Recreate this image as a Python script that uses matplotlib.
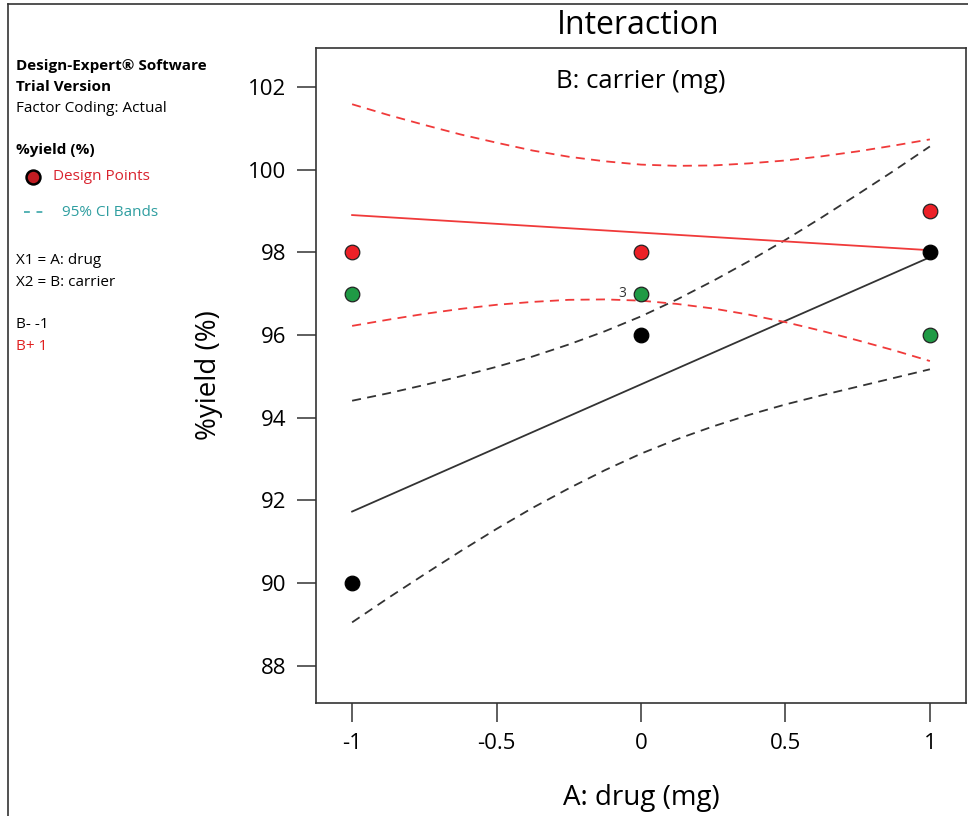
import numpy as np
import matplotlib.pyplot as plt
from matplotlib.lines import Line2D

plt.rcParams['font.family'] = ['Open Sans', 'DejaVu Sans']

# A: drug (coded), sampled along the CI curves
drug = [-1, -0.875, -0.75, -0.625, -0.5, -0.375, -0.25, -0.125, 0,
        0.125, 0.25, 0.375, 0.5, 0.625, 0.75, 0.875, 1]

# B- (carrier at -1): fitted line and 95% CI bands
b_minus_fit = [91.73, 97.88]
b_minus_upper = [94.41, 94.59, 94.79, 95.00, 95.23, 95.48, 95.77, 96.09, 96.45,
                 96.86, 97.31, 97.79, 98.30, 98.84, 99.40, 99.97, 100.56]
b_minus_lower = [89.05, 89.64, 90.21, 90.77, 91.31, 91.82, 92.29, 92.73, 93.13,
                 93.48, 93.79, 94.07, 94.32, 94.54, 94.75, 94.96, 95.17]

# B+ (carrier at +1): fitted line and 95% CI bands
b_plus_fit = [98.90, 98.05]
b_plus_upper = [101.58, 101.32, 101.08, 100.85, 100.65, 100.46, 100.31, 100.20, 100.12,
                100.09, 100.10, 100.15, 100.22, 100.32, 100.44, 100.58, 100.73]
b_plus_lower = [96.22, 96.37, 96.51, 96.63, 96.73, 96.80, 96.85, 96.86, 96.83,
                96.75, 96.64, 96.49, 96.31, 96.10, 95.87, 95.63, 95.37]

# design points
red_x = [-1, 0, 1]
red_y = [98, 98, 99]
green_x = [-1, 0, 1]
green_y = [97, 97, 96]
black_x = [-1, 0, 1]
black_y = [90, 96, 98]

RED = '#f03a3a'
DARK = '#333333'

fig = plt.figure(figsize=(9.68, 8.16), dpi=100)
ax = fig.add_axes([316 / 968, 1 - 703 / 816, 650 / 968, 655 / 816])

dash = (0, (5, 3.5))
ax.plot([-1, 1], b_minus_fit, color=DARK, lw=1.3)
ax.plot(drug, b_minus_upper, color=DARK, lw=1.3, linestyle=dash)
ax.plot(drug, b_minus_lower, color=DARK, lw=1.3, linestyle=dash)
ax.plot([-1, 1], b_plus_fit, color=RED, lw=1.3)
ax.plot(drug, b_plus_upper, color=RED, lw=1.3, linestyle=dash)
ax.plot(drug, b_plus_lower, color=RED, lw=1.3, linestyle=dash)

ax.plot(red_x, red_y, 'o', ms=10.5, mfc='#ec2027', mec='#222222', mew=0.9, zorder=5)
ax.plot(green_x, green_y, 'o', ms=10.5, mfc='#1f9a45', mec='#222222', mew=0.9, zorder=5)
ax.plot(black_x, black_y, 'o', ms=10.5, mfc='black', mec='black', mew=0.9, zorder=5)
ax.text(-0.05, 97, '3', fontsize=10, color=DARK, ha='right', va='center')

ax.set_xlim(-1.125, 1.125)
ax.set_ylim(87.1, 102.94)
ax.set_xticks([-1, -0.5, 0, 0.5, 1])
ax.set_xticklabels(['-1', '-0.5', '0', '0.5', '1'])
ax.set_yticks(np.arange(88, 103, 2))
ax.tick_params(length=13.5, width=1.1, color=DARK, labelsize=16, pad=8)
for s in ax.spines.values():
    s.set_color(DARK)
    s.set_linewidth(1.2)

ax.set_xlabel('A: drug (mg)', fontsize=20, labelpad=22)
ax.set_ylabel('%yield (%)', fontsize=20, labelpad=18)
ax.text(0, 102.12, 'B: carrier (mg)', fontsize=18.5, ha='center', va='center')
fig.text(638 / 968, 1 - 25 / 816, 'Interaction', fontsize=23, ha='center', va='center')

# outer frame
fig.add_artist(Line2D([8 / 968, 8 / 968], [0, 1 - 4 / 816], color=DARK, lw=1.2))
fig.add_artist(Line2D([8 / 968, 1], [1 - 4 / 816, 1 - 4 / 816], color=DARK, lw=1.2))

# side panel
def side(y, s, **kw):
    fig.text(16 / 968, 1 - y / 816, s, fontsize=11, va='center', **kw)

side(66, 'Design-Expert® Software', weight='bold')
side(87, 'Trial Version', weight='bold')
side(108, 'Factor Coding: Actual')
side(150, '%yield (%)', weight='bold')
fig.add_artist(Line2D([33 / 968], [1 - 177 / 816], marker='o', ms=10, mfc='#c01c22',
                      mec='black', mew=1.8))
fig.text(53 / 968, 1 - 177 / 816, 'Design Points', fontsize=11, va='center', color='#d9232e')
fig.add_artist(Line2D([24 / 968, 46 / 968], [1 - 212 / 816] * 2, color='#3aa6a8', lw=1.2,
                      linestyle=(0, (3.5, 4))))
fig.text(62 / 968, 1 - 212 / 816, '95% CI Bands', fontsize=11, va='center', color='#2f9ea0')
side(260, 'X1 = A: drug')
side(282, 'X2 = B: carrier')
side(325, 'B- -1')
side(346, 'B+ 1', color='#e02020')

fig.savefig('out.png', dpi=100)
